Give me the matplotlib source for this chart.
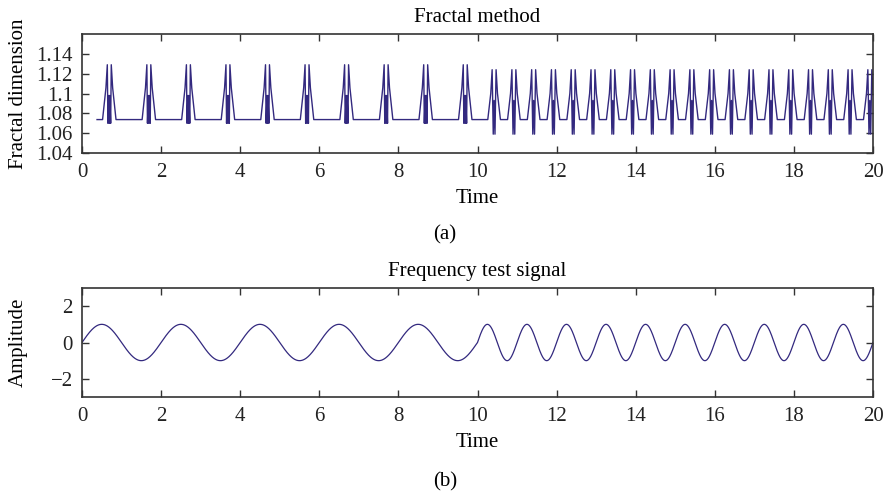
import numpy as np
import matplotlib
matplotlib.use("Agg")
import matplotlib.pyplot as plt

plt.rcParams['font.family'] = ['Liberation Serif', 'DejaVu Serif']

# ---- data (a): fractal dimension ----
fd_start = 0.38
fd_end = 20.0
fd_baseline = 1.0737
centers_slow = [0.69, 1.69, 2.69, 3.69, 4.69, 5.69, 6.69, 7.69, 8.69, 9.69]
centers_fast = [10.42, 10.92, 11.42, 11.92, 12.42, 12.92, 13.42, 13.92, 14.42,
                14.92, 15.42, 15.92, 16.42, 16.92, 17.42, 17.92, 18.42, 18.92,
                19.42, 19.92]
shape_slow_off = [-0.17, -0.085, -0.05, -0.035, -0.012, 0.0, 0.012, 0.035, 0.05, 0.085, 0.17]
shape_slow_val = [1.0737, 1.1057, 1.129, 1.070, 1.098, 1.070, 1.098, 1.070, 1.129, 1.1057, 1.0737]
shape_fast_off = [-0.16, -0.085, -0.05, -0.022, 0.0, 0.022, 0.05, 0.085, 0.16]
shape_fast_val = [1.0737, 1.100, 1.124, 1.059, 1.093, 1.059, 1.124, 1.100, 1.0737]

# ---- data (b): frequency test signal ----
seg_start = [0.0, 10.0]
seg_end = [10.0, 20.0]
seg_freq = [0.5, 1.0]
seg_amp = [1.0, 1.0]

color = '#33297f'

# build fractal curve
fx = [fd_start]
fy = [fd_baseline]
for c in centers_slow:
    fx += [c + o for o in shape_slow_off]
    fy += list(shape_slow_val)
for c in centers_fast:
    fx += [c + o for o in shape_fast_off]
    fy += list(shape_fast_val)
fx.append(fd_end + 0.2)
fy.append(fd_baseline)

# build signal
t_all, s_all = [], []
for a, b, f, A in zip(seg_start, seg_end, seg_freq, seg_amp):
    t = np.linspace(a, b, 2001)
    t_all.append(t)
    s_all.append(A * np.sin(2 * np.pi * f * (t - a)))
t_all = np.concatenate(t_all)
s_all = np.concatenate(s_all)

W, H = 885, 498
fig = plt.figure(figsize=(W / 100, H / 100), dpi=100)

def px_axes(l, t, r, b):
    return fig.add_axes([l / W, 1 - b / H, (r - l) / W, (b - t) / H])

fs = 15

ax1 = px_axes(82, 34, 873, 153)
ax1.plot(fx, fy, color=color, lw=1.0)
ax1.set_xlim(0, 20)
ax1.set_ylim(1.04, 1.16)
ax1.set_xticks(np.arange(0, 21, 2))
ax1.set_yticks([1.04, 1.06, 1.08, 1.1, 1.12, 1.14])
ax1.set_yticklabels(['1.04', '1.06', '1.08', '1.1', '1.12', '1.14'])
ax1.set_title('Fractal method', fontsize=fs, pad=8.5)
ax1.set_xlabel('Time', fontsize=fs, labelpad=5)
ax1.set_ylabel('Fractal dimension', fontsize=15)

ax2 = px_axes(82, 288, 873, 397)
ax2.plot(t_all, s_all, color=color, lw=0.9)
ax2.set_xlim(0, 20)
ax2.set_ylim(-3, 3)
ax2.set_xticks(np.arange(0, 21, 2))
ax2.set_yticks([-2, 0, 2])
ax2.set_yticklabels(['\u22122', '0', '2'])
ax2.set_title('Frequency test signal', fontsize=fs, pad=8.5)
ax2.set_xlabel('Time', fontsize=fs, labelpad=5)
ax2.set_ylabel('Amplitude', fontsize=fs)

for ax in (ax1, ax2):
    ax.tick_params(axis='x', pad=7)
    ax.tick_params(axis='y', pad=6.5)
    ax.tick_params(direction='in', top=True, right=True, length=5, width=1,
                   labelsize=fs, color='#333333', labelcolor='#222222')
    ax.yaxis.set_label_coords((28 - 82) / 791, 0.5)
    for sp in ax.spines.values():
        sp.set_linewidth(1.2)
        sp.set_color('#333333')

fig.text(445 / W, 1 - 235 / H, '(a)', ha='center', va='center', fontsize=fs)
fig.text(445 / W, 1 - 482 / H, '(b)', ha='center', va='center', fontsize=fs)

fig.savefig('out.png', dpi=100)
